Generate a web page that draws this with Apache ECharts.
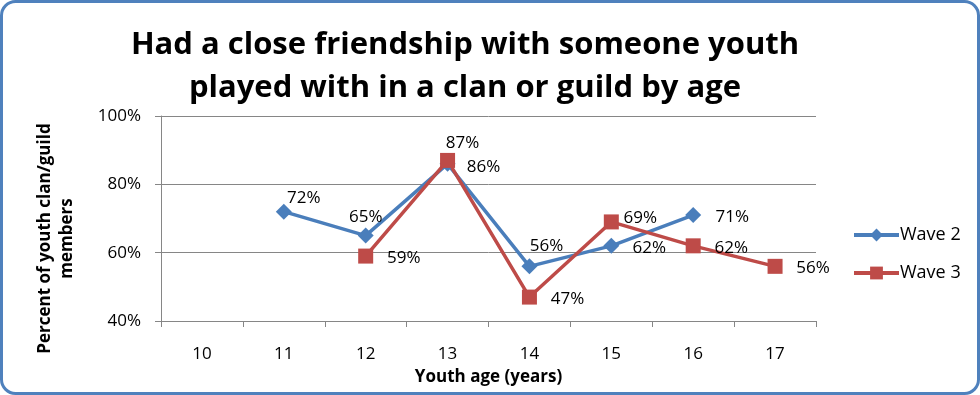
<!DOCTYPE html>
<html><head><meta charset="utf-8">
<script src="https://cdn.jsdelivr.net/npm/echarts@6/dist/echarts.min.js"></script>
<style>html,body{margin:0;padding:0;background:#fff}#c{width:980px;height:395px}</style>
</head><body><div id="c"></div>
<script>
const categories = ['10','11','12','13','14','15','16','17'];
const wave2 = [null, 72, 65, 86, 56, 62, 71, null];
const wave3 = [null, null, 59, 87, 47, 69, 62, 56];
const seriesNames = ['Wave 2', 'Wave 3'];
const yTicks = [40, 60, 80, 100];
const titleText = 'Had a close friendship with someone youth\nplayed with in a clan or guild by age';
const xName = 'Youth age (years)';
const yName = 'Percent of youth clan/guild\nmembers';

const offs2 = [null, [20,-14], [0,-18], [36,3], [17,-20], [38,2], [39,2], null];
const offs3 = [null, null, [38,2], [15,-17], [38,2], [29,-4], [38,2], [38,2]];

function mk(vals, offs){
  return vals.map((v,i)=> v==null ? null : {value: v, label: {offset: offs[i]}});
}
const FONT = "'Open Sans', sans-serif";
const chart = echarts.init(document.getElementById('c'), null, {renderer:'canvas'});
chart.setOption({
  animation: false,
  backgroundColor: '#fff',
  title: {
    text: titleText, left: 460, top: 19, textAlign: 'center',
    textStyle: {fontFamily: FONT, fontWeight: 'bold', fontSize: 31, lineHeight: 43, color: '#000'}
  },
  graphic: [{type:'rect', shape:{x:1.5,y:1.5,width:977,height:392,r:14}, style:{fill:'none', stroke:'#4F81BD', lineWidth:3}, z: 100}],
  grid: {left: 161, right: 164, top: 116, bottom: 74},
  legend: {
    orient: 'vertical', left: 847, top: 221, itemWidth: 45, itemHeight: 16, itemGap: 20,
    lineStyle: {width: 4},
    textStyle: {fontFamily: FONT, fontSize: 18, color: '#000', padding: [0,0,0,-4]},
    data: seriesNames
  },
  xAxis: {
    type: 'category', data: categories, boundaryGap: true,
    axisLine: {lineStyle: {color: '#868686'}},
    axisTick: {show: true, interval: 0, length: 6, lineStyle: {color: '#868686'}},
    axisLabel: {interval: 0, margin: 25, fontFamily: FONT, fontSize: 17, color: '#000'},
    name: xName, nameLocation: 'middle', nameGap: 48,
    nameTextStyle: {fontFamily: FONT, fontWeight: 'bold', fontSize: 17, color: '#000'}
  },
  yAxis: {
    type: 'value', min: yTicks[0], max: yTicks[yTicks.length-1], interval: 20,
    axisLine: {show: true, lineStyle: {color: '#868686'}},
    axisTick: {show: true, length: 6, lineStyle: {color: '#868686'}},
    splitLine: {lineStyle: {color: '#868686'}},
    axisLabel: {margin: 20, fontFamily: FONT, fontSize: 17, color: '#000', formatter: v => v + '%'},
    name: yName, nameLocation: 'middle', nameGap: 83, nameRotate: 90,
    nameTextStyle: {fontFamily: FONT, fontWeight: 'bold', fontSize: 17, color: '#000', lineHeight: 22, padding: [0, 40, 0, 0]}
  },
  series: [
    {name: seriesNames[0], type: 'line', data: mk(wave2, offs2), symbol: 'diamond', symbolSize: 16,
     itemStyle: {color: '#4A7EBB'}, lineStyle: {width: 3.5, color: '#4A7EBB'},
     label: {show: true, position: 'inside', fontFamily: FONT, fontSize: 17, color: '#000', formatter: p => p.value + '%'}},
    {name: seriesNames[1], type: 'line', data: mk(wave3, offs3), symbol: 'rect', symbolSize: 15,
     itemStyle: {color: '#BE4B48'}, lineStyle: {width: 3.5, color: '#BE4B48'},
     label: {show: true, position: 'inside', fontFamily: FONT, fontSize: 17, color: '#000', formatter: p => p.value + '%'}}
  ]
});
</script></body></html>
